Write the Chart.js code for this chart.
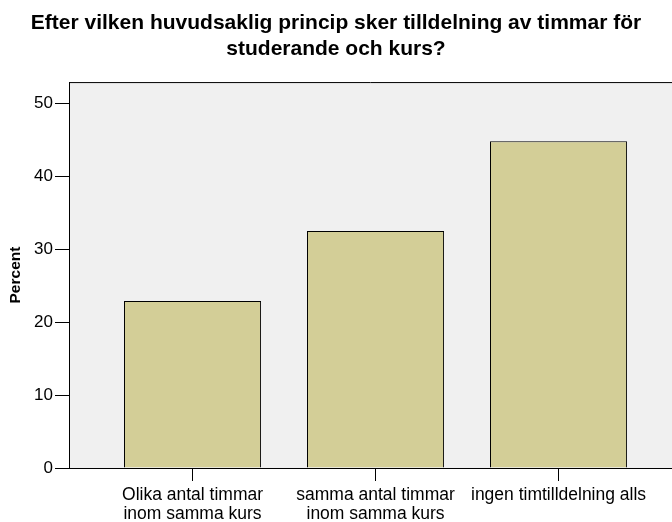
<!DOCTYPE html>
<html>
<head>
<meta charset="utf-8">
<script src="https://cdn.jsdelivr.net/npm/chart.js@4/dist/chart.umd.min.js"></script>
<style>
  html, body { margin: 0; padding: 0; background: #fff; }
</style>
</head>
<body>
<canvas id="chart" width="672" height="522"></canvas>
<script>
const categories = [
  ["Olika antal timmar", "inom samma kurs"],
  ["samma antal timmar", "inom samma kurs"],
  ["ingen timtilldelning alls"],
];
const percent = [22.9, 32.5, 44.8];
const yTicks = [0, 10, 20, 30, 40, 50];

// gray plot area with a black frame on top
const plotBackground = {
  id: "plotBackground",
  beforeDraw(chart) {
    const { ctx, chartArea } = chart;
    ctx.save();
    ctx.fillStyle = "#f0f0f0";
    ctx.fillRect(chartArea.left, chartArea.top, chartArea.right - chartArea.left, chartArea.bottom - chartArea.top);
    ctx.strokeStyle = "#000";
    ctx.lineWidth = 1;
    ctx.beginPath();
    ctx.moveTo(chartArea.left, chartArea.top + 0.5);
    ctx.lineTo(chartArea.right, chartArea.top + 0.5);
    ctx.stroke();
    ctx.restore();
  },
};

const data = percent.map((v, i) => ({ x: i, y: v }));

new Chart(document.getElementById("chart"), {
  type: "bar",
  data: {
    datasets: [
      {
        data,
        backgroundColor: "#d3ce97",
        borderColor: "#000",
        borderWidth: 1,
        categoryPercentage: 1,
        barPercentage: 0.749,
      },
    ],
  },
  options: {
    responsive: false,
    animation: false,
    layout: { padding: 0 },
    plugins: {
      legend: { display: false },
      tooltip: { enabled: false },
      title: {
        display: true,
        text: ["Efter vilken huvudsaklig princip sker tilldelning av timmar för", "studerande och kurs?"],
        color: "#000",
        font: { family: "Liberation Sans, Arial", size: 21, weight: "bold", lineHeight: 1.24 },
        padding: { top: 10, bottom: 20 },
      },
    },
    scales: {
      x: {
        type: "linear",
        offset: false,
        min: -0.675,
        max: 2.62,
        afterBuildTicks(scale) {
          scale.ticks = categories.map((c, i) => ({ value: i }));
        },
        afterFit(scale) {
          scale.height = 54;
        },
        grid: {
          offset: false,
          drawOnChartArea: false,
          color: "#000",
          tickLength: 13,
        },
        border: { display: true, color: "#000", width: 1 },
        ticks: {
          color: "#000",
          font: { family: "Liberation Sans, Arial", size: 17.5, lineHeight: 1.09 },
          padding: 5,
          maxRotation: 0,
          autoSkip: false,
          callback: (v) => categories[v],
        },
      },
      y: {
        min: 0,
        max: 52.9,
        afterBuildTicks(scale) {
          scale.ticks = yTicks.map((v) => ({ value: v }));
        },
        afterFit(scale) {
          scale.width = 69;
        },
        grid: {
          drawOnChartArea: false,
          color: "#000",
          tickLength: 14,
        },
        border: { display: true, color: "#000", width: 1 },
        ticks: {
          color: "#000",
          font: { family: "Liberation Sans, Arial", size: 17 },
          padding: 2,
        },
        title: {
          display: true,
          text: "Percent",
          color: "#000",
          font: { family: "Liberation Sans, Arial", size: 15.5, weight: "bold" },
          padding: { top: 6, bottom: 0 },
        },
      },
    },
  },
  plugins: [plotBackground],
});
</script>
</body>
</html>
